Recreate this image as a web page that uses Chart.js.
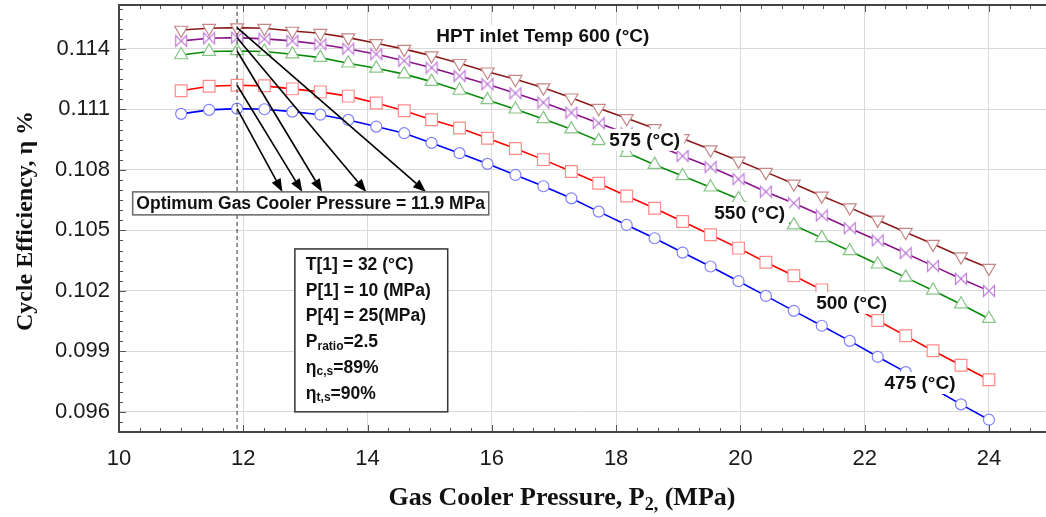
<!DOCTYPE html>
<html>
<head>
<meta charset="utf-8">
<title>Cycle efficiency vs gas cooler pressure</title>
<script src="https://cdn.jsdelivr.net/npm/chart.js@4.4.1/dist/chart.umd.min.js"></script>
<style>
  html, body { margin: 0; padding: 0; background: #fff; }
  #wrap { width: 1046px; height: 517px; }
</style>
</head>
<body>
<div id="wrap"><canvas id="effChart" width="1046" height="517"></canvas></div>
<script>
// Gas cooler pressure P2 (MPa), same for every curve
const pressure = [11.00, 11.45, 11.90, 12.34, 12.79, 13.24, 13.69, 14.14, 14.59, 15.03,
    15.48, 15.93, 16.38, 16.83, 17.28, 17.72, 18.17, 18.62, 19.07, 19.52,
    19.97, 20.41, 20.86, 21.31, 21.76, 22.21, 22.66, 23.10, 23.55, 24.00];

// Cycle efficiency for each HPT inlet temperature
const eff475 = [0.11078, 0.11098, 0.11104, 0.11101, 0.11089, 0.11074, 0.11048, 0.11015, 0.10982, 0.10934,
    0.10883, 0.10830, 0.10775, 0.10719, 0.10659, 0.10593, 0.10527, 0.10461, 0.10390, 0.10321,
    0.10248, 0.10175, 0.10101, 0.10027, 0.09952, 0.09873, 0.09797, 0.09717, 0.09637, 0.09561];
const eff500 = [0.11193, 0.11215, 0.11220, 0.11217, 0.11202, 0.11187, 0.11166, 0.11132, 0.11093, 0.11049,
    0.11008, 0.10957, 0.10906, 0.10851, 0.10792, 0.10734, 0.10671, 0.10610, 0.10544, 0.10478,
    0.10412, 0.10342, 0.10275, 0.10205, 0.10131, 0.10053, 0.09977, 0.09903, 0.09831, 0.09759];
const eff550 = [0.11370, 0.11387, 0.11390, 0.11387, 0.11374, 0.11357, 0.11329, 0.11304, 0.11275, 0.11238,
    0.11194, 0.11147, 0.11101, 0.11053, 0.11002, 0.10944, 0.10886, 0.10826, 0.10770, 0.10714,
    0.10656, 0.10592, 0.10526, 0.10463, 0.10398, 0.10332, 0.10267, 0.10202, 0.10134, 0.10062];
const eff575 = [0.11440, 0.11453, 0.11456, 0.11450, 0.11440, 0.11423, 0.11401, 0.11374, 0.11341, 0.11307,
    0.11266, 0.11225, 0.11180, 0.11134, 0.11084, 0.11032, 0.10981, 0.10927, 0.10869, 0.10814,
    0.10754, 0.10692, 0.10635, 0.10574, 0.10511, 0.10450, 0.10387, 0.10324, 0.10260, 0.10200];
const eff600 = [0.11494, 0.11503, 0.11506, 0.11503, 0.11489, 0.11478, 0.11456, 0.11428, 0.11399, 0.11367,
    0.11329, 0.11287, 0.11250, 0.11208, 0.11158, 0.11106, 0.11056, 0.11006, 0.10956, 0.10901,
    0.10845, 0.10789, 0.10731, 0.10671, 0.10613, 0.10552, 0.10491, 0.10432, 0.10370, 0.10313];

const xTicks = [10, 12, 14, 16, 18, 20, 22, 24];
const yTicks = [0.096, 0.099, 0.102, 0.105, 0.108, 0.111, 0.114];

const optimumPressure = 11.9;

// Annotations, in data units
const arrowTipsX = [12.63, 12.95, 13.27, 13.98, 14.94];
const arrowTipY = 0.10691;
const optimumBox = { x1: 10.22, x2: 15.95, y1: 0.10691, y2: 0.10577, text: 'Optimum Gas Cooler Pressure = 11.9 MPa' };
const infoBox = { x1: 12.83, x2: 15.29, y1: 0.10408, y2: 0.09600 };
const infoLines = [
    [{ t: 'T[1] = 32 (°C)' }],
    [{ t: 'P[1] = 10 (MPa)' }],
    [{ t: 'P[4] = 25(MPa)' }],
    [{ t: 'P' }, { t: 'ratio', sub: true }, { t: '=2.5' }],
    [{ t: 'η' }, { t: 'c,s', sub: true }, { t: '=89%' }],
    [{ t: 'η' }, { t: 't,s', sub: true }, { t: '=90%' }]
];
const curveLabels = [
    { text: 'HPT inlet Temp 600 (°C)', x: 16.82, y: 0.11464 },
    { text: '575 (°C)', x: 18.46, y: 0.10949 },
    { text: '550 (°C)', x: 20.15, y: 0.10587 },
    { text: '500 (°C)', x: 21.79, y: 0.10140 },
    { text: '475 (°C)', x: 22.89, y: 0.09743 }
];

const SANS = '"Liberation Sans", Arial, sans-serif';
const SERIF = '"Liberation Serif", "Times New Roman", serif';

function makeBowtie(color) {
    const c = document.createElement('canvas');
    c.width = 14;
    c.height = 14;
    const g = c.getContext('2d');
    g.beginPath();
    g.moveTo(1.5, 1.5);
    g.lineTo(12.5, 12.5);
    g.lineTo(12.5, 1.5);
    g.lineTo(1.5, 12.5);
    g.closePath();
    g.fillStyle = '#fff';
    g.fill();
    g.strokeStyle = color;
    g.lineWidth = 1.2;
    g.stroke();
    return c;
}

function series(values, line, marker, style, radius, rotation) {
    return {
        data: pressure.map((p, i) => ({ x: p, y: values[i] })),
        borderColor: line,
        borderWidth: 1.6,
        pointStyle: style,
        pointRadius: radius,
        pointRotation: rotation || 0,
        pointBorderColor: marker,
        pointBorderWidth: 1.2,
        pointBackgroundColor: '#fff',
        tension: 0
    };
}

function drawParts(ctx, parts, x, y, size) {
    parts.forEach(part => {
        if (part.sub) {
            ctx.font = 'bold ' + Math.round(size * 0.7) + 'px ' + SANS;
            ctx.fillText(part.t, x, y + size * 0.22);
        } else {
            ctx.font = 'bold ' + size + 'px ' + SANS;
            ctx.fillText(part.t, x, y);
        }
        x += ctx.measureText(part.t).width;
    });
}

// no auto padding around the plot, the frame sits where the reference has it
function noPadding(s) {
    s.paddingLeft = 0;
    s.paddingRight = 0;
    s.paddingTop = 0;
    s.paddingBottom = 0;
}

const decorPlugin = {
    id: 'decor',
    afterDatasetsDraw(chart) {
        const { ctx, chartArea: a, scales: { x, y } } = chart;
        ctx.save();

        // dashed optimum line
        const ox = x.getPixelForValue(optimumPressure);
        ctx.strokeStyle = '#333';
        ctx.lineWidth = 1;
        ctx.setLineDash([4, 3]);
        ctx.beginPath();
        ctx.moveTo(ox, a.top);
        ctx.lineTo(ox, a.bottom);
        ctx.stroke();
        ctx.setLineDash([]);

        // arrows from optimum points to the box
        const all = [eff475, eff500, eff550, eff575, eff600];
        const iOpt = pressure.indexOf(optimumPressure);
        all.forEach((vals, k) => {
            const sx = x.getPixelForValue(pressure[iOpt]);
            const sy = y.getPixelForValue(vals[iOpt]);
            const tx = x.getPixelForValue(arrowTipsX[k]);
            const ty = y.getPixelForValue(arrowTipY);
            const ang = Math.atan2(ty - sy, tx - sx);
            const len = 13, half = 5;
            const bx = tx - len * Math.cos(ang), by = ty - len * Math.sin(ang);
            ctx.strokeStyle = '#000';
            ctx.lineWidth = 1.6;
            ctx.beginPath();
            ctx.moveTo(sx, sy);
            ctx.lineTo(bx, by);
            ctx.stroke();
            ctx.fillStyle = '#000';
            ctx.beginPath();
            ctx.moveTo(tx, ty);
            ctx.lineTo(bx + half * Math.sin(ang), by - half * Math.cos(ang));
            ctx.lineTo(bx - half * Math.sin(ang), by + half * Math.cos(ang));
            ctx.closePath();
            ctx.fill();
        });

        // optimum box
        let l = x.getPixelForValue(optimumBox.x1), r = x.getPixelForValue(optimumBox.x2);
        let t = y.getPixelForValue(optimumBox.y1), b = y.getPixelForValue(optimumBox.y2);
        ctx.fillStyle = '#fff';
        ctx.fillRect(l, t, r - l, b - t);
        ctx.strokeStyle = '#666';
        ctx.lineWidth = 1.5;
        ctx.strokeRect(l, t, r - l, b - t);
        ctx.fillStyle = '#111';
        ctx.font = 'bold 17.5px ' + SANS;
        ctx.textAlign = 'center';
        ctx.textBaseline = 'middle';
        ctx.fillText(optimumBox.text, (l + r) / 2, (t + b) / 2 + 1);

        // parameter box
        l = x.getPixelForValue(infoBox.x1); r = x.getPixelForValue(infoBox.x2);
        t = y.getPixelForValue(infoBox.y1); b = y.getPixelForValue(infoBox.y2);
        ctx.fillStyle = '#fff';
        ctx.fillRect(l, t, r - l, b - t);
        ctx.strokeStyle = '#333';
        ctx.lineWidth = 1.5;
        ctx.strokeRect(l, t, r - l, b - t);
        ctx.fillStyle = '#111';
        ctx.textAlign = 'left';
        ctx.textBaseline = 'middle';
        infoLines.forEach((parts, i) => {
            drawParts(ctx, parts, l + 11, t + 16 + i * 25.8, 17.5);
        });

        // curve labels on white
        ctx.font = 'bold 19px ' + SANS;
        ctx.textAlign = 'center';
        curveLabels.forEach(lab => {
            const cx = x.getPixelForValue(lab.x), cy = y.getPixelForValue(lab.y);
            const w = ctx.measureText(lab.text).width;
            ctx.fillStyle = '#fff';
            ctx.fillRect(cx - w / 2 - 4, cy - 11, w + 8, 22);
            ctx.fillStyle = '#111';
            ctx.fillText(lab.text, cx, cy + 1);
        });
        ctx.restore();
    },
    afterDraw(chart) {
        const { ctx, chartArea: a, scales: { x, y } } = chart;
        ctx.save();

        // inward ticks on bottom, top and left
        ctx.strokeStyle = '#555';
        ctx.lineWidth = 1;
        ctx.beginPath();
        for (let k = 30; k / 3 <= x.max; k++) {
            const px = Math.round(x.getPixelForValue(k / 3)) + 0.5;
            const len = k % 6 === 0 ? 7 : 4;
            ctx.moveTo(px, a.bottom);
            ctx.lineTo(px, a.bottom - len);
            ctx.moveTo(px, a.top);
            ctx.lineTo(px, a.top + len);
        }
        for (let k = 190; k / 2000 <= y.max; k++) {
            const py = Math.round(y.getPixelForValue(k / 2000)) + 0.5;
            const len = k % 6 === 0 ? 7 : 4;
            ctx.moveTo(a.left, py);
            ctx.lineTo(a.left + len, py);
        }
        ctx.stroke();

        // frame
        ctx.strokeStyle = '#444';
        ctx.lineWidth = 2;
        ctx.beginPath();
        ctx.moveTo(a.right + 2, a.top);
        ctx.lineTo(a.left, a.top);
        ctx.lineTo(a.left, a.bottom);
        ctx.lineTo(a.right + 2, a.bottom);
        ctx.stroke();

        // axis titles
        ctx.fillStyle = '#111';
        ctx.textBaseline = 'alphabetic';
        ctx.font = 'bold 26px ' + SERIF;
        const p1 = 'Gas Cooler Pressure, P', p2 = '2,', p3 = ' (MPa)';
        const w1 = ctx.measureText(p1).width, w3 = ctx.measureText(p3).width;
        ctx.font = 'bold 18px ' + SERIF;
        const w2 = ctx.measureText(p2).width;
        let sx = 562 - (w1 + w2 + w3) / 2;
        ctx.textAlign = 'left';
        ctx.font = 'bold 26px ' + SERIF;
        ctx.fillText(p1, sx, 505);
        ctx.font = 'bold 18px ' + SERIF;
        ctx.fillText(p2, sx + w1, 510);
        ctx.font = 'bold 26px ' + SERIF;
        ctx.fillText(p3, sx + w1 + w2, 505);

        ctx.translate(32, 221);
        ctx.rotate(-Math.PI / 2);
        ctx.textAlign = 'center';
        ctx.font = 'bold 24px ' + SERIF;
        ctx.fillText('Cycle Efficiency, η %', 0, 0);
        ctx.restore();
    }
};

document.addEventListener('DOMContentLoaded', function () {
    const ctx = document.getElementById('effChart').getContext('2d');
    new Chart(ctx, {
        type: 'line',
        data: {
            datasets: [
                series(eff475, '#0000ff', '#8080ff', 'circle', 5.5),
                series(eff500, '#ff0000', '#ff8a8a', 'rect', 8.3),
                series(eff550, '#0a8a0a', '#85c585', 'triangle', 7.5),
                series(eff575, '#8a148a', '#c585dc', makeBowtie('#c080d8'), 7),
                series(eff600, '#8b1a1a', '#c68686', 'triangle', 7.5, 180)
            ]
        },
        options: {
            responsive: false,
            animation: false,
            devicePixelRatio: 1,
            layout: { autoPadding: false, padding: { left: 0, right: 0, top: 5, bottom: 0 } },
            plugins: { legend: { display: false }, tooltip: { enabled: false } },
            scales: {
                x: {
                    type: 'linear',
                    min: 10,
                    max: 24.918,
                    afterBuildTicks: s => { s.ticks = xTicks.map(v => ({ value: v })); },
                    afterFit: s => { s.height = 85; noPadding(s); },
                    grid: { color: '#d9d9d9', lineWidth: 1, drawTicks: false },
                    border: { display: false },
                    ticks: {
                        font: { family: SANS, size: 22 },
                        color: '#1a1a1a',
                        padding: 14,
                        maxRotation: 0,
                        autoSkip: false
                    }
                },
                y: {
                    min: 0.095,
                    max: 0.11618,
                    afterBuildTicks: s => { s.ticks = yTicks.map(v => ({ value: v })); },
                    afterFit: s => { s.width = 119; noPadding(s); },
                    grid: { color: '#d9d9d9', lineWidth: 1, drawTicks: false },
                    border: { display: false },
                    ticks: {
                        font: { family: SANS, size: 22 },
                        color: '#1a1a1a',
                        padding: 9,
                        callback: v => v.toFixed(3)
                    }
                }
            }
        },
        plugins: [decorPlugin]
    });
});
</script>
</body>
</html>
